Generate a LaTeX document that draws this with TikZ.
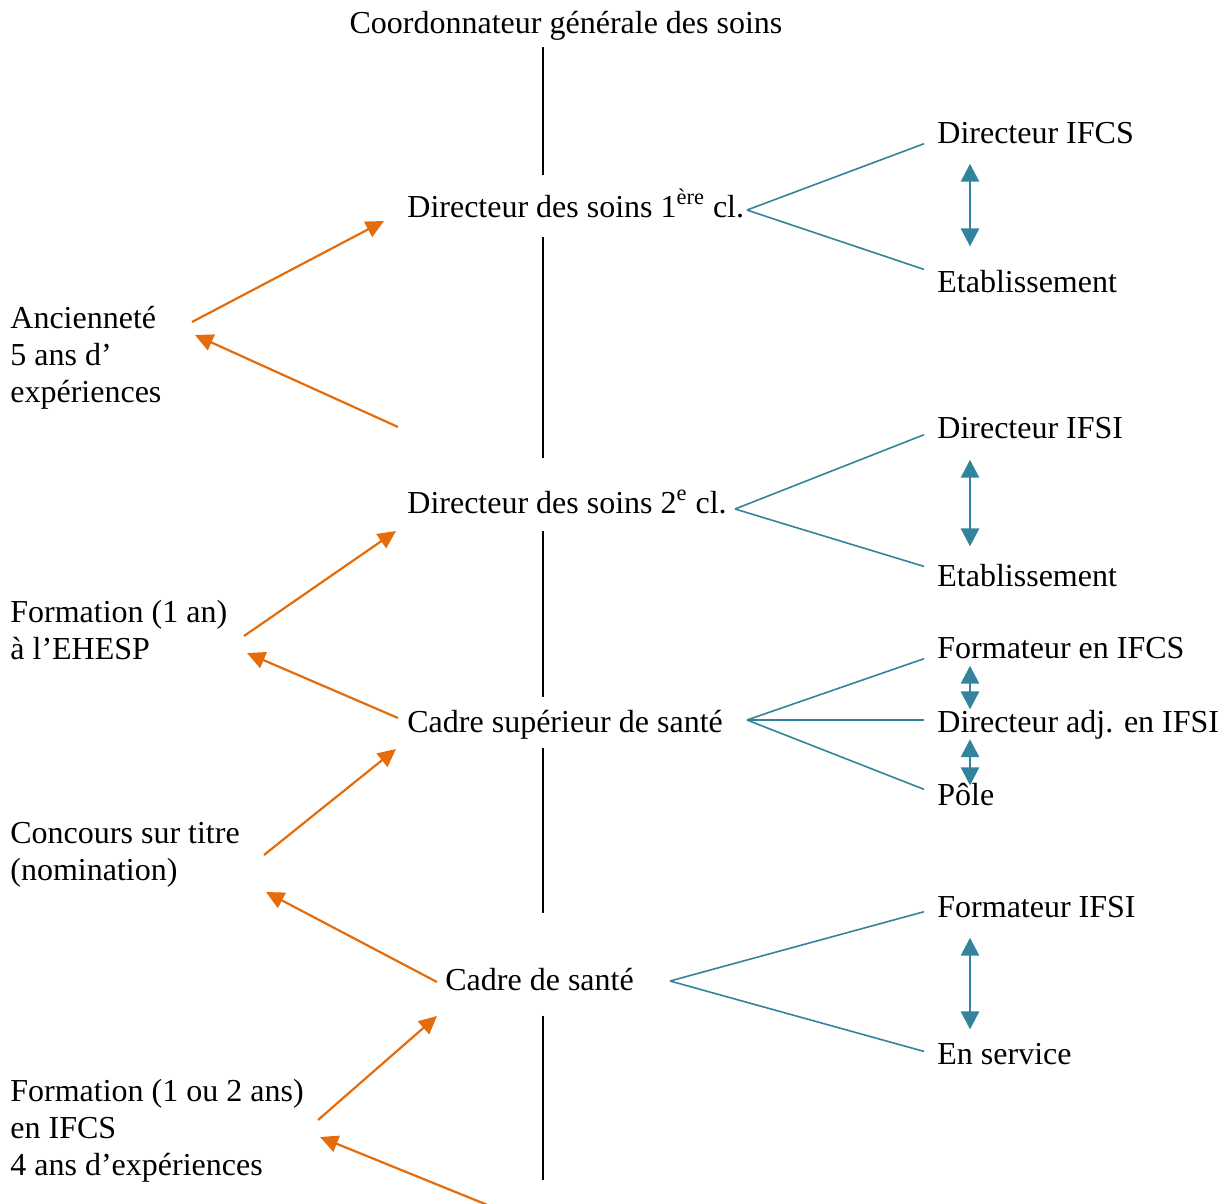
\documentclass[tikz,border=0pt]{standalone}
\usepackage{fontspec}
\setmainfont{Liberation Serif}
\usepackage{tikz}
\usetikzlibrary{arrows.meta}
\definecolor{rankorange}{HTML}{E46C0A}
\definecolor{postteal}{HTML}{31849B}

\begin{document}
\begin{tikzpicture}[
    x=0.5pt, y=-0.5pt,
    lbl/.style={inner sep=0pt, font=\fontsize{16}{18.5}\selectfont, anchor=base west},
    side/.style={lbl, align=left, anchor=north west},
    post/.style={lbl, inner xsep=6.5pt},
    spine/.style={line width=1pt, black},
    promo/.style={-{Triangle[length=9pt,width=8.5pt]}, line width=1.1pt, rankorange},
    fan/.style={line width=0.8pt, postteal},
    swap/.style={{Triangle[length=9pt,width=9pt]}-{Triangle[length=9pt,width=9pt]}, line width=1.4pt, postteal}
]
    \useasboundingbox (0,0) rectangle (1226,1204);

    % grades
    \node[lbl, anchor=base] (top) at (566,34) {Coordonnateur générale des soins};
    \node[lbl] (d1) at (407,217) {Directeur des soins 1\textsuperscript{ère} cl.};
    \node[lbl] (d2) at (407,513) {Directeur des soins 2\textsuperscript{e} cl.};
    \node[lbl] (csup) at (407,732) {Cadre supérieur de santé};
    \node[lbl] (cadre) at (445,990) {Cadre de santé};

    % posts
    \node[post] (ifcs) at (924,143) {Directeur IFCS};
    \node[post] (etab1) at (924,292) {Etablissement};
    \node[post] (ifsi) at (924,438) {Directeur IFSI};
    \node[post] (etab2) at (924,586) {Etablissement};
    \node[post] (fifcs) at (924,658) {Formateur en IFCS};
    \node[post] (dadj) at (924,732) {Directeur adj. en IFSI};
    \node[post] (pole) at (924,805) {Pôle};
    \node[post] (fifsi) at (924,917) {Formateur IFSI};
    \node[post] (insvc) at (924,1064) {En service};

    % access conditions
    \node[side] (anc) at (10,306) {Ancienneté\\5 ans d’\\expériences};
    \node[side] (ehesp) at (10,600) {Formation (1 an)\\à l’EHESP};
    \node[side] (conc) at (10,822) {Concours sur titre\\(nomination)};
    \node[side] (ifcsf) at (10,1079) {Formation (1 ou 2 ans)\\en IFCS\\4 ans d’expériences};

    % vertical line
    \coordinate (axis) at (543,0);
    \coordinate (floor) at (543,1180);
    \draw[spine, shorten <=3pt, shorten >=6.5pt] (top.south -| axis) -- (d1.north -| axis);
    \draw[spine, shorten <=9.5pt, shorten >=16pt] (d1.south -| axis) -- (d2.north -| axis);
    \draw[spine, shorten <=8.5pt, shorten >=6pt] (d2.south -| axis) -- (csup.north -| axis);
    \draw[spine, shorten <=4.5pt, shorten >=27pt] (csup.south -| axis) -- (cadre.north -| axis);
    \draw[spine, shorten <=12.5pt] (cadre.south -| axis) -- (floor);

    % fans to posts
    \coordinate (f1) at (747,210);
    \coordinate (f2) at (735,509);
    \coordinate (f3) at (747,720);
    \coordinate (f4) at (670,981);
    \draw[fan] (f1) -- (ifcs.south west);
    \draw[fan] (f1) -- (etab1.north west);
    \draw[fan] (f2) -- ([yshift=2pt]ifsi.south west);
    \draw[fan] (f2) -- ([yshift=-1.5pt]etab2.north west);
    \draw[fan] (f3) -- (fifcs.south west);
    \draw[fan] (f3) -- (f3 -| dadj.west);
    \draw[fan] (f3) -- ([yshift=-3.5pt]pole.north west);
    \draw[fan] (f4) -- ([yshift=3pt]fifsi.south west);
    \draw[fan] (f4) -- ([yshift=-4.5pt]insvc.north west);

    % mobility between posts
    \coordinate (lane) at (970,0);
    \draw[swap, shorten <=10pt, shorten >=11.5pt] (ifcs.south -| lane) -- (etab1.north -| lane);
    \draw[swap, shorten <=10.5pt, shorten >=8.5pt] (ifsi.south -| lane) -- (etab2.north -| lane);
    \draw[swap, shorten <=3.5pt] (fifcs.south -| lane) -- (dadj.north -| lane);
    \draw[swap, shorten >=-1.5pt] (dadj.south -| lane) -- (pole.north -| lane);
    \draw[swap, shorten <=10pt, shorten >=6.5pt] (fifsi.south -| lane) -- (insvc.north -| lane);

    % promotion arrows
    \coordinate (ancA) at (192,322);   \coordinate (d1W) at (384,221);
    \coordinate (d2NW) at (398,427);   \coordinate (ancB) at (195,335);
    \coordinate (ehespA) at (244,636); \coordinate (d2W) at (396,531);
    \coordinate (csupW) at (398,718);  \coordinate (ehespB) at (247,653);
    \coordinate (concA) at (264,855);  \coordinate (csupSW) at (396,749);
    \coordinate (cadreW) at (437,982); \coordinate (concB) at (266,892);
    \coordinate (ifcsfA) at (318,1120); \coordinate (cadreSW) at (437,1016);
    \coordinate (below) at (490,1206); \coordinate (ifcsfB) at (320,1137);
    \draw[promo] (ancA) -- (d1W);
    \draw[promo] (d2NW) -- (ancB);
    \draw[promo] (ehespA) -- (d2W);
    \draw[promo] (csupW) -- (ehespB);
    \draw[promo] (concA) -- (csupSW);
    \draw[promo] (cadreW) -- (concB);
    \draw[promo] (ifcsfA) -- (cadreSW);
    \draw[promo] (below) -- (ifcsfB);
\end{tikzpicture}
\end{document}
